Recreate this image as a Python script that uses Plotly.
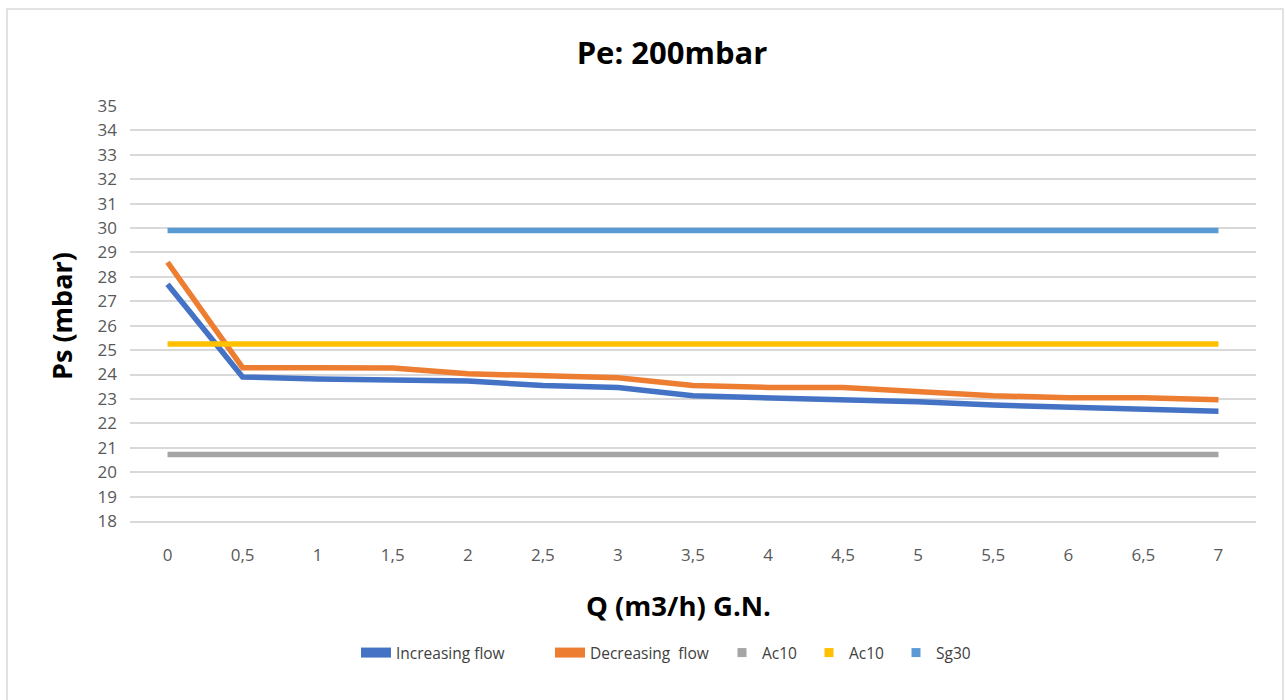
import plotly.graph_objects as go

q_labels = ["0", "0,5", "1", "1,5", "2", "2,5", "3", "3,5", "4", "4,5", "5", "5,5", "6", "6,5", "7"]
increasing = [27.7, 23.9, 23.82, 23.8, 23.73, 23.55, 23.47, 23.13, 23.05, 22.97, 22.88, 22.75, 22.67, 22.58, 22.5]
decreasing = [28.6, 24.28, 24.28, 24.27, 24.03, 23.95, 23.87, 23.55, 23.47, 23.47, 23.3, 23.13, 23.05, 23.05, 22.97]
ac10_low = [20.72] * 15
ac10_high = [25.25] * 15
sg30 = [29.9] * 15
y_ticks = list(range(18, 36))

series = [
    ("Increasing flow", increasing, "#4472C4", "line"),
    ("Decreasing  flow", decreasing, "#ED7D31", "line"),
    ("Ac10", ac10_low, "#A5A5A5", "square"),
    ("Ac10", ac10_high, "#FFC000", "square"),
    ("Sg30", sg30, "#5B9BD5", "square"),
]
# absolute x of legend text start for each entry
legend_text_x = [396, 590, 762, 849, 936]

W, H = 1285, 700
L, R, T, B = 130, 29, 106, 179
pw, ph = W - L - R, H - T - B

fig = go.Figure()
legend_names = ["legend", "legend2", "legend3", "legend4", "legend5"]
for i, (name, vals, col, sym) in enumerate(series):
    fig.add_trace(go.Scatter(x=q_labels, y=vals, name=name, mode="lines",
                             line=dict(color=col, width=5.5), showlegend=False))
    if sym == "line":
        fig.add_trace(go.Scatter(x=[None], y=[None], name=name, mode="lines",
                                 line=dict(color=col, width=10), legend=legend_names[i]))
    else:
        fig.add_trace(go.Scatter(x=[None], y=[None], name=name, mode="markers",
                                 marker=dict(color=col, size=9, symbol="square"),
                                 legend=legend_names[i]))

layout_legends = {}
for i, ln in enumerate(legend_names):
    layout_legends[ln] = dict(orientation="h", x=(legend_text_x[i] - 40 - L) / pw, xanchor="left",
                              y=(521 - 653) / ph, yanchor="middle",
                              font=dict(size=15.5, color="#404040", family="Open Sans"),
                              bgcolor="rgba(0,0,0,0)", borderwidth=0)

fig.update_layout(
    width=W, height=H,
    margin=dict(l=L, r=R, t=T, b=B),
    paper_bgcolor="white", plot_bgcolor="white",
    font=dict(family="Open Sans", color="#595959"),
    title=dict(text="<b>Pe: 200mbar</b>", x=672 / W, xanchor="center",
               y=1 - 53 / H, yanchor="middle",
               font=dict(size=31, color="black", family="Open Sans")),
    xaxis=dict(type="category", range=[-0.5, 14.5], showgrid=False,
               showline=True, linecolor="#D9D9D9", linewidth=1.5,
               ticks="", ticklabelstandoff=18, tickfont=dict(size=17, color="#595959")),
    yaxis=dict(range=[18, 35], tickvals=y_ticks, showgrid=True, gridcolor="#D9D9D9", gridwidth=1.5,
               zeroline=False, showline=False, ticks="", ticklabelstandoff=12,
               tickfont=dict(size=17, color="#595959")),
    showlegend=True,
    annotations=[
        dict(text="<b>Q (m3/h) G.N.</b>", xref="paper", yref="paper",
             x=(678 - L) / pw, y=(521 - 605) / ph, xanchor="center", yanchor="middle",
             showarrow=False, font=dict(size=27.5, color="black", family="Open Sans")),
        dict(text="<b>Ps (mbar)</b>", xref="paper", yref="paper", textangle=-90,
             x=(61 - L) / pw, y=(521 - 316) / ph, xanchor="center", yanchor="middle",
             showarrow=False, font=dict(size=27, color="black", family="Open Sans")),
    ],
    **layout_legends,
)

fig.add_shape(type="rect", xref="paper", yref="paper",
              x0=(7 - L) / pw, x1=(1283 - L) / pw, y0=(521 - 720) / ph, y1=(521 - 9) / ph,
              line=dict(color="#D9D9D9", width=1.5), fillcolor="rgba(0,0,0,0)", layer="below")

fig.write_html("out.html", config={"displayModeBar": False},
               post_script="document.body.style.margin='0';document.body.style.overflow='hidden';")
